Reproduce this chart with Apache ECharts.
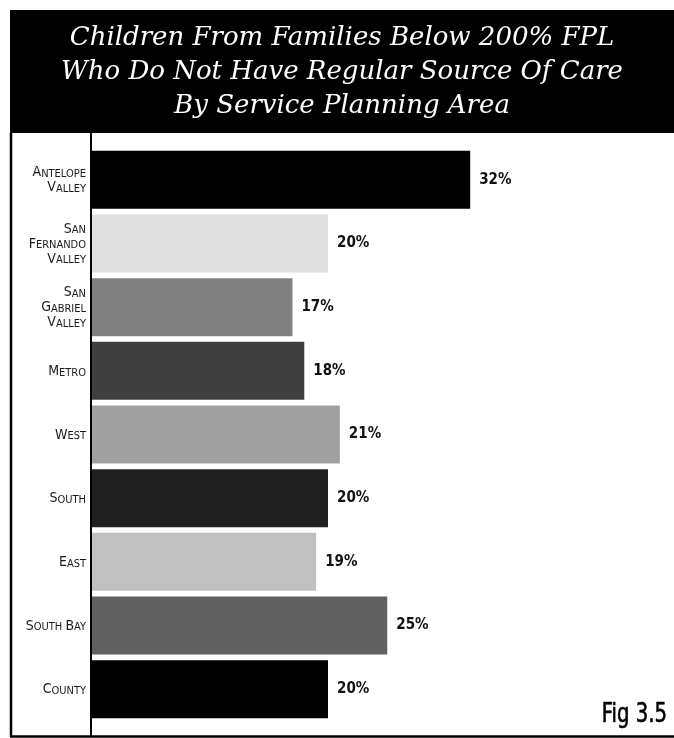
<!DOCTYPE html>
<html>
<head>
<meta charset="utf-8">
<script src="https://cdn.jsdelivr.net/npm/echarts@6/dist/echarts.min.js"></script>
<style>
  html, body { margin: 0; padding: 0; background: #fff; }
  #chart { width: 674px; height: 738px; }
</style>
</head>
<body>
<div id="chart"></div>
<script>
// Service planning areas, top to bottom (line breaks as drawn)
const categories = [
  'Antelope\nValley',
  'San\nFernando\nValley',
  'San\nGabriel\nValley',
  'Metro',
  'West',
  'South',
  'East',
  'South Bay',
  'County'
];
// Percent of children without a regular source of care
const values = [32, 20, 17, 18, 21, 20, 19, 25, 20];
// Grey shade for each bar
const barColors = ['#000000', '#dedede', '#808080', '#404040', '#a0a0a0', '#202020', '#c0c0c0', '#606060', '#000000'];
const titleLines = [
  'Children From Families Below 200% FPL',
  'Who Do Not Have Regular Source Of Care',
  'By Service Planning Area'
];
const figLabel = 'Fig 3.5';

const labelFont = '"DejaVu Sans Condensed", "DejaVu Sans", sans-serif';

// Small caps: first letter of each word full size, the rest smaller capitals
function smallCaps(text) {
  return text.split('\n').map(line =>
    line.split(' ').map(w => '{c|' + w.charAt(0).toUpperCase() + '}{s|' + w.slice(1).toUpperCase() + '}').join('{s| }')
  ).join('\n');
}

const chart = echarts.init(document.getElementById('chart'), null, { renderer: 'canvas' });

chart.setOption({
  animation: false,
  backgroundColor: '#ffffff',
  grid: { left: 91, top: 148, width: 474, height: 573, containLabel: false },
  xAxis: {
    type: 'value', min: 0, max: 40,
    show: false
  },
  yAxis: {
    type: 'category',
    data: categories,
    inverse: true,
    axisLine: { show: false },
    axisTick: { show: false },
    axisLabel: {
      margin: 5,
      formatter: smallCaps,
      rich: {
        c: { fontFamily: labelFont, fontSize: 14, color: '#1a1a1a', lineHeight: 15, verticalAlign: 'bottom' },
        s: { fontFamily: labelFont, fontSize: 11, color: '#1a1a1a', lineHeight: 15, verticalAlign: 'bottom' }
      }
    }
  },
  series: [{
    type: 'bar',
    data: values.map((v, i) => ({ value: v, itemStyle: { color: barColors[i] } })),
    barWidth: 58,
    label: {
      show: true,
      position: 'right',
      distance: 9,
      formatter: '{c}%',
      fontFamily: labelFont,
      fontSize: 15,
      fontWeight: 'bold',
      color: '#111'
    }
  }],
  graphic: [
    // title band
    { type: 'rect', shape: { x: 10, y: 10, width: 664, height: 123 }, style: { fill: '#000' }, z: 0 },
    ...titleLines.map((t, i) => ({
      type: 'text', x: 342, y: 38 + i * 34,
      style: {
        text: t, fill: '#fff',
        font: 'italic 26px "DejaVu Serif", serif',
        align: 'center', verticalAlign: 'middle'
      }, z: 10
    })),
    // frame and axis lines
    { type: 'line', shape: { x1: 11, y1: 133, x2: 11, y2: 737 }, style: { stroke: '#000', lineWidth: 2.5 }, z: 10 },
    { type: 'line', shape: { x1: 10, y1: 736.5, x2: 674, y2: 736.5 }, style: { stroke: '#000', lineWidth: 2.5 }, z: 10 },
    { type: 'line', shape: { x1: 91, y1: 133, x2: 91, y2: 737 }, style: { stroke: '#000', lineWidth: 2 }, z: 10 },
    {
      type: 'text', x: 667, y: 728, scaleX: 0.84,
      style: {
        text: figLabel, fill: '#000',
        font: '26px "DejaVu Sans Condensed", sans-serif',
        stroke: '#000', lineWidth: 0.6,
        align: 'right', verticalAlign: 'bottom'
      }, z: 10
    }
  ]
});
</script>
</body>
</html>
